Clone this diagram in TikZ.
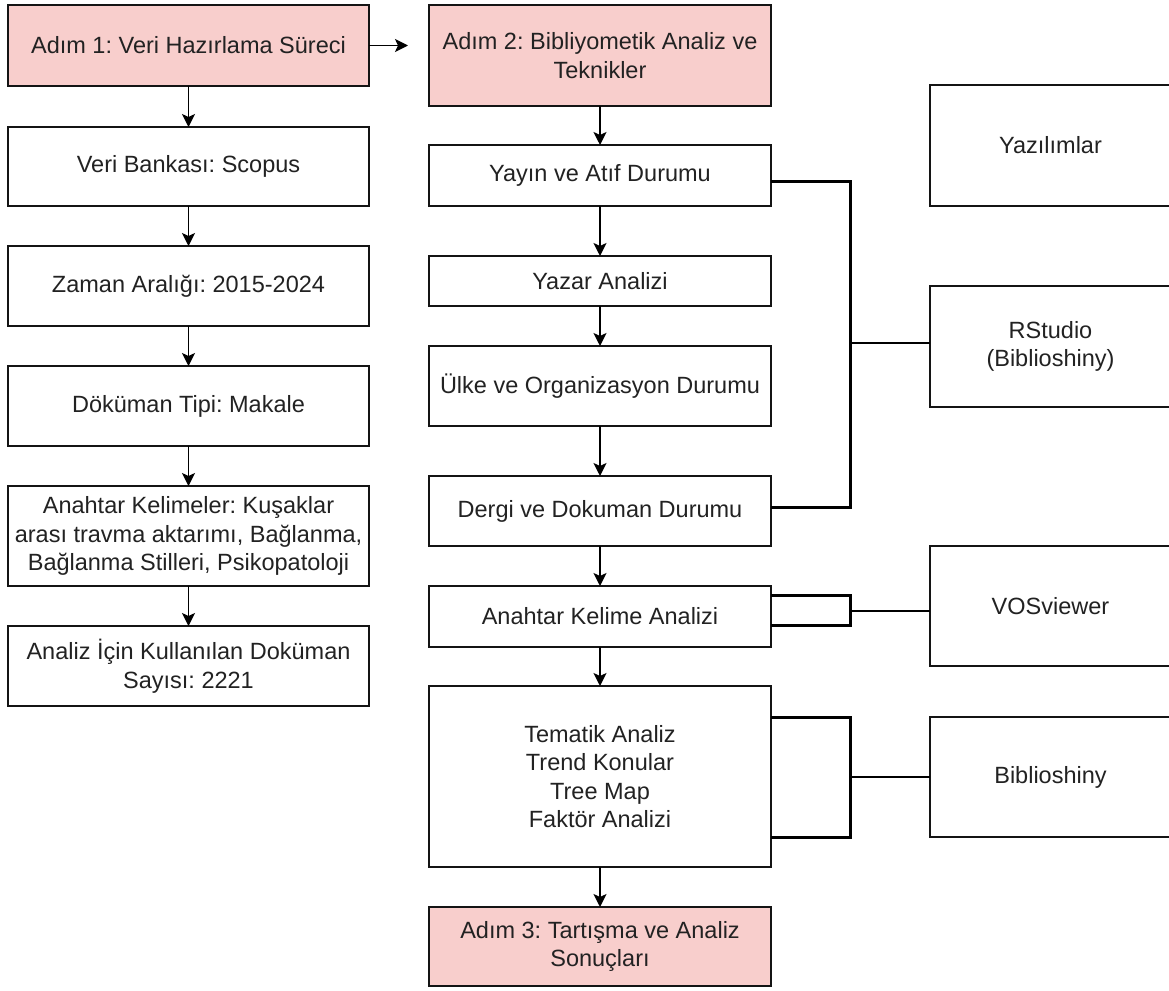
\documentclass[tikz,border=0pt]{standalone}
\usepackage{fontspec}
\setmainfont{Liberation Sans}
\usepackage{xcolor}
\usetikzlibrary{positioning,arrows.meta,calc}
\definecolor{headfill}{RGB}{248,206,204}
\definecolor{boxline}{RGB}{ 20, 20, 20}
\definecolor{boxtext}{RGB}{ 34, 34, 34}

\begin{document}
\frenchspacing
\begin{tikzpicture}[
    x=1pt,y=-1pt,
    font=\fontsize{23.5}{28.5}\selectfont,
    box/.style={draw=boxline,fill=white,line width=1.7pt,align=center,
                text=boxtext,inner sep=2pt,outer sep=0pt},
    headbox/.style={box,fill=headfill},
    leftbox/.style={box,minimum width=361pt,minimum height=80pt},
    midbox/.style={box,minimum width=342pt},
    softbox/.style={box,minimum width=241pt,minimum height=121pt},
    flow/.style={-{Stealth[length=13pt,width=13pt,inset=3pt]},line width=1.7pt},
    brk/.style={line width=3pt},
    tie/.style={line width=2.4pt},
]
\useasboundingbox (0,0) rectangle (1169,990);

% --- step 1 column ---
\node[headbox,minimum width=361pt,minimum height=81pt] (a1) at (188.5,45.5)
    {Adım 1: Veri Hazırlama Süreci};
\node[leftbox,minimum height=79pt,below=41pt of a1] (bank) {Veri Bankası: Scopus};
\node[leftbox,below=40pt of bank]  (span)  {Zaman Aralığı: 2015-2024};
\node[leftbox,below=40pt of span]  (dtype) {Döküman Tipi: Makale};
\node[leftbox,minimum height=100pt,below=40pt of dtype] (keys)
    {Anahtar Kelimeler: Kuşaklar\\arası travma aktarımı, Bağlanma,\\Bağlanma Stilleri, Psikopatoloji};
\node[leftbox,below=40pt of keys]  (count) {Analiz İçin Kullanılan Doküman\\Sayısı: 2221};

% --- step 2 column ---
\node[headbox,minimum width=342pt,minimum height=101pt] (a2) at (600,55.5)
    {Adım 2: Bibliyometik Analiz ve\\Teknikler};
\node[midbox,minimum height=61pt,below=39pt of a2]   (yayin) {Yayın ve Atıf Durumu};
\node[midbox,minimum height=50pt,below=50pt of yayin] (yazar) {Yazar Analizi};
\node[midbox,minimum height=80pt,below=40pt of yazar] (ulke)  {Ülke ve Organizasyon Durumu};
\node[midbox,minimum height=70pt,below=50pt of ulke]  (dergi) {Dergi ve Dokuman Durumu};
\node[midbox,minimum height=61pt,below=40pt of dergi] (akel)  {Anahtar Kelime Analizi};
\node[midbox,minimum height=181pt,below=39pt of akel] (tema)
    {Tematik Analiz\\Trend Konular\\Tree Map\\Faktör Analizi};
\node[headbox,minimum width=342pt,minimum height=79pt,below=40pt of tema] (a3)
    {Adım 3: Tartışma ve Analiz\\Sonuçları};

% --- software column ---
\node[softbox] (soft) at (1050.5,145.5) {Yazılımlar};
\node[softbox,below=80pt of soft]     (rstudio) {RStudio\\(Biblioshiny)};
\node[softbox,minimum height=120pt,below=139pt of rstudio] (vos) {VOSviewer};
\node[softbox,minimum height=120pt,below=51pt of vos]      (biblio) {Biblioshiny};

% straight flow
\draw[flow] (a1.east) -- ($(a1.east)!0.65!(a1.east -| a2.west)$);
\draw[flow] (a1) -- (bank);
\draw[flow] (bank) -- (span);
\draw[flow] (span) -- (dtype);
\draw[flow] (dtype) -- (keys);
\draw[flow] (keys) -- (count);

\draw[flow] (a2) -- (yayin);
\draw[flow] (yayin) -- (yazar);
\draw[flow] (yazar) -- (ulke);
\draw[flow] (ulke) -- (dergi);
\draw[flow] (dergi) -- (akel);
\draw[flow] (akel) -- (tema);
\draw[flow] (tema) -- (a3);

% brackets to the software boxes
\coordinate (j1) at (850,343);
\coordinate (j2) at (850,611);
\coordinate (j3) at (850,777);
\draw[brk] ($(yayin.east)+(0,5.5)$) -| (j1) |- ($(dergi.east)+(0,-4)$);
\draw[tie] (j1) -- (j1 -| rstudio.west);
\draw[brk] ($(akel.east)+(0,-21.5)$) -| (j2) |- ($(akel.east)+(0,8.5)$);
\draw[tie] (j2) -- (j2 -| vos.west);
\draw[brk] ($(tema.east)+(0,-59.5)$) -| (j3) |- ($(tema.east)+(0,60.5)$);
\draw[tie] (j3) -- (j3 -| biblio.west);
\end{tikzpicture}
\end{document}
